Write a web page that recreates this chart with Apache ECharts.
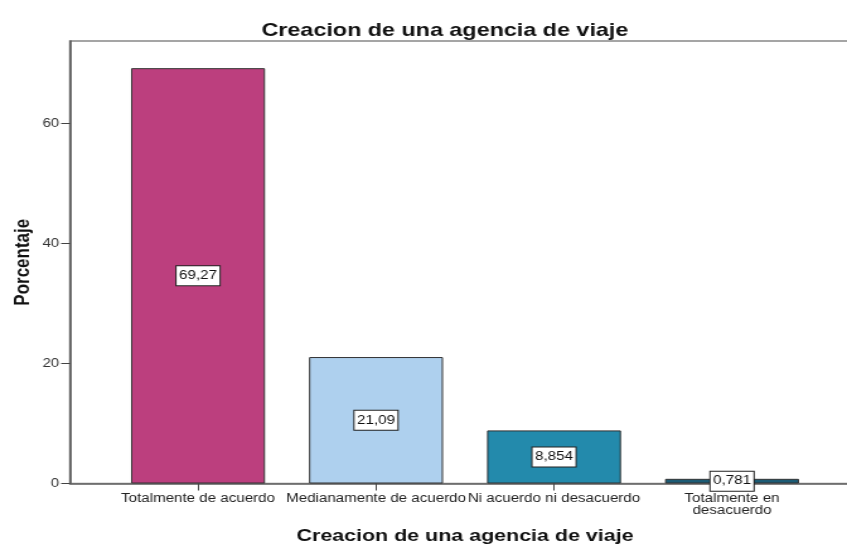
<!DOCTYPE html>
<html>
<head>
<meta charset="utf-8">
<script src="https://cdn.jsdelivr.net/npm/echarts@6/dist/echarts.min.js"></script>
<style>
  html, body { margin: 0; padding: 0; background: #fff; overflow: hidden; }
  /* la imagen original viene estirada en horizontal: se dibuja mas estrecha y se estira */
  #chart { width: 672px; height: 544px; transform: scaleX(1.2604); transform-origin: 0 0; }
</style>
</head>
<body>
<div id="chart"></div>
<script>
// datos del grafico
const categorias = ['Totalmente de acuerdo', 'Medianamente de acuerdo', 'Ni acuerdo ni desacuerdo', 'Totalmente en\ndesacuerdo']
const porcentajes = [69.27, 21.09, 8.854, 0.781]
const colores = ['#bc3f7e', '#aed0ee', '#238aac', '#1c5b74']
const ticksY = [0, 20, 40, 60]

const fuente = '"Liberation Sans", Arial, sans-serif'
const yMax = 73.8

const chart = echarts.init(document.getElementById('chart'))
const option = {
  animation: false,
  title: {
    text: 'Creacion de una agencia de viaje',
    left: 348,
    textAlign: 'center',
    top: 16,
    textStyle: { fontFamily: fuente, fontSize: 18.5, fontWeight: 'bold', color: '#111' }
  },
  grid: [
    // marco exterior
    { left: 55.5, right: -2, top: 41, bottom: 60.5, outerBoundsMode: 'none', show: true, borderColor: '#888', borderWidth: 1.5, backgroundColor: 'transparent' },
    // zona de barras
    { left: 86.5, right: 20.6, top: 41, bottom: 60.5, outerBoundsMode: 'none' }
  ],
  xAxis: [
    {
      gridIndex: 0, type: 'value', min: 0, max: 1,
      axisLine: { show: true, onZero: false, lineStyle: { color: '#666', width: 1.5 } },
      axisTick: { show: false }, axisLabel: { show: false }, splitLine: { show: false }
    },
    {
      gridIndex: 1, type: 'category', data: categorias,
      name: 'Creacion de una agencia de viaje',
      nameLocation: 'middle', nameGap: 44,
      nameTextStyle: { fontFamily: fuente, fontSize: 17, fontWeight: 'bold', color: '#111' },
      axisLine: { show: false },
      axisTick: { show: true, alignWithLabel: true, length: 7, lineStyle: { color: '#444' } },
      axisLabel: { interval: 0, fontFamily: fuente, fontSize: 12, color: '#222', margin: 9, lineHeight: 12 }
    }
  ],
  yAxis: [
    {
      gridIndex: 0, type: 'value', min: 0, max: yMax, interval: 20,
      name: 'Porcentaje', nameLocation: 'middle', nameGap: 29, nameRotate: 90,
      nameMoveOverlap: false,
      nameTextStyle: { fontFamily: fuente, fontSize: 17, fontWeight: 'bold', color: '#111' },
      axisLine: { show: true, lineStyle: { color: '#555', width: 1.5 } },
      axisTick: { show: true, length: 7, customValues: ticksY, lineStyle: { color: '#444' } },
      axisLabel: {
        fontFamily: fuente, fontSize: 12, color: '#333', margin: 8.5,
        customValues: ticksY
      },
      splitLine: { show: false }
    },
    {
      gridIndex: 1, type: 'value', min: 0, max: yMax, interval: 20, show: false
    }
  ],
  series: [{
    type: 'bar',
    xAxisIndex: 1,
    yAxisIndex: 1,
    barWidth: 106.3,
    data: porcentajes.map((v, i) => ({
      value: v,
      itemStyle: { color: colores[i], borderColor: '#333', borderWidth: 1 }
    })),
    label: {
      show: true,
      position: 'inside',
      formatter: p => String(p.value).replace('.', ','),
      fontFamily: fuente,
      fontSize: 12,
      lineHeight: 14,
      color: '#111',
      backgroundColor: '#fff',
      borderColor: '#222',
      borderWidth: 1,
      padding: [3, 2, 2, 2]
    }
  }]
}
chart.setOption(option)
window.addEventListener('resize', function () {
  chart.resize()
})
</script>
</body>
</html>
